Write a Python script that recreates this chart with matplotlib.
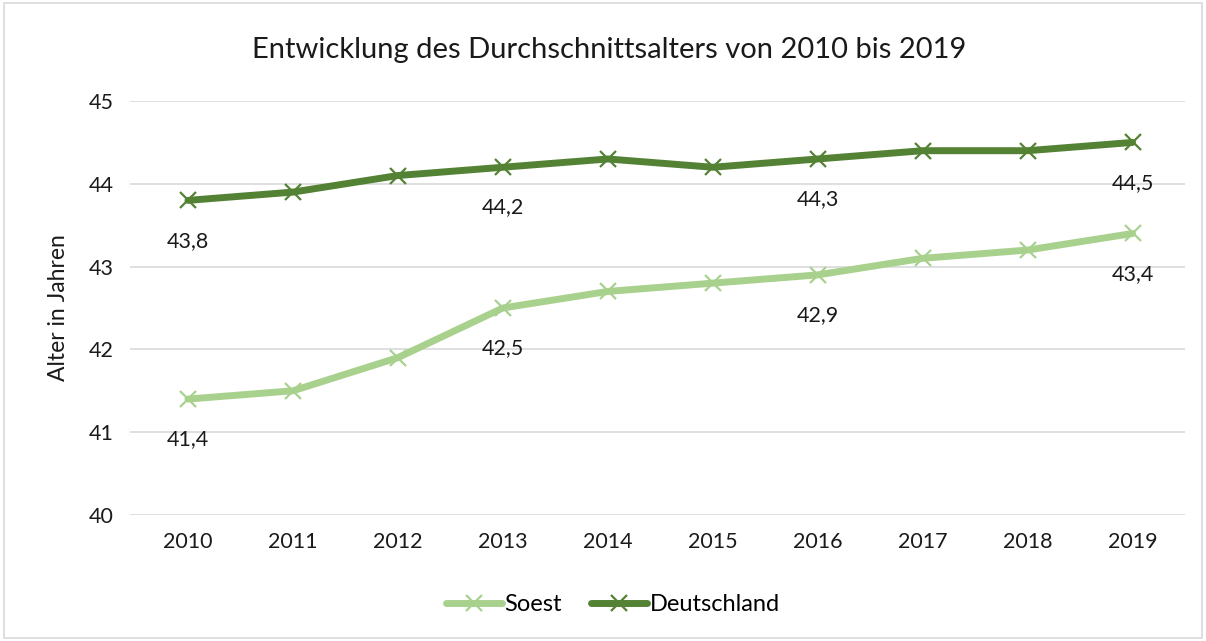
import matplotlib.pyplot as plt
from matplotlib.patches import Rectangle

years = [2010, 2011, 2012, 2013, 2014, 2015, 2016, 2017, 2018, 2019]
soest = [41.4, 41.5, 41.9, 42.5, 42.7, 42.8, 42.9, 43.1, 43.2, 43.4]
deutschland = [43.8, 43.9, 44.1, 44.2, 44.3, 44.2, 44.3, 44.4, 44.4, 44.5]
labelled = [0, 3, 6, 9]

light = '#A9D18E'
dark = '#548235'

plt.rcParams['font.family'] = ['Lato', 'DejaVu Sans']

fig = plt.figure(figsize=(12.06, 6.41), dpi=100)
ax = fig.add_axes([0.108, 0.1966, 0.8746, 0.6458])

x = list(range(len(years)))
ax.plot(x, soest, color=light, lw=5, marker='x', ms=12, mew=1.6, label='Soest',
        solid_capstyle='round')
ax.plot(x, deutschland, color=dark, lw=5, marker='x', ms=12, mew=1.6, label='Deutschland',
        solid_capstyle='round')

# data labels below the points
for series in (soest, deutschland):
    for i in labelled:
        ax.annotate(f'{series[i]:.1f}'.replace('.', ','), (x[i], series[i]),
                    xytext=(0, -29), textcoords='offset points',
                    ha='center', va='center', fontsize=15.5, color='#1a1a1a')

ax.set_xlim(-0.55, 9.5)
ax.set_ylim(40, 45)
ax.set_yticks(range(40, 46))
ax.set_xticks(x)
ax.set_xticklabels([str(y) for y in years])
ax.grid(axis='y', color='#D9D9D9', lw=1.2)
ax.set_axisbelow(True)
for s in ax.spines.values():
    s.set_visible(False)
ax.tick_params(length=0, labelsize=15.5, colors='#1a1a1a', pad=12)
ax.set_ylabel('Alter in Jahren', fontsize=16.5, color='#1a1a1a', labelpad=14)
fig.text(0.505, 0.922, 'Entwicklung des Durchschnittsalters von 2010 bis 2019',
         fontsize=21, color='#1a1a1a', ha='center', va='center')

fig.legend(loc='center', bbox_to_anchor=(0.508, 0.057), ncol=2, frameon=False,
           fontsize=17, handlelength=2.4, handletextpad=0.1, columnspacing=1.2)

fig.patches.append(Rectangle((0.003, 0.005), 0.994, 0.99, transform=fig.transFigure,
                             fill=False, edgecolor='#D9D9D9', lw=1.2))

fig.savefig('out.png', dpi=100)
